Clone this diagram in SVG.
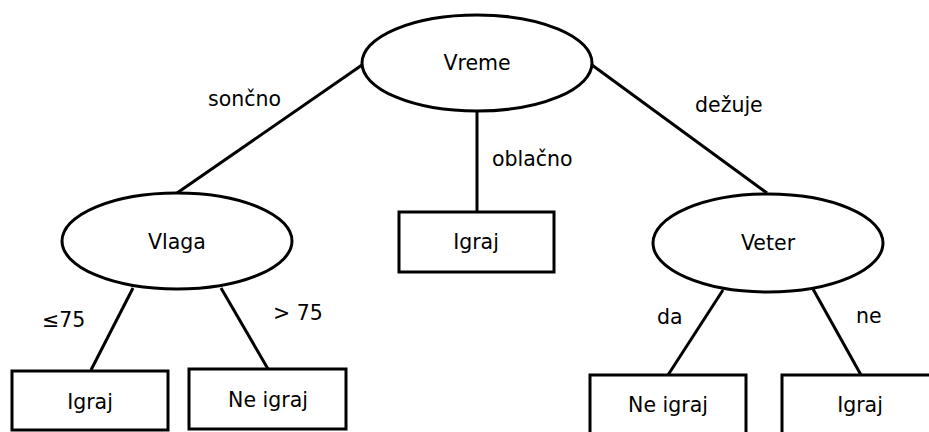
<svg xmlns="http://www.w3.org/2000/svg" width="929" height="432" viewBox="0 0 929 432">
<style>
.n{fill:#fff;stroke:#000;stroke-width:3}
.e{stroke:#000;stroke-width:3;fill:none}
text{font-family:"DejaVu Sans",sans-serif;font-size:20.5px;fill:#000}
.c{text-anchor:middle}
</style>
<rect width="929" height="432" fill="#fff"/>
<g id="connectors">
<line class="e" x1="362" y1="65" x2="177" y2="193"/>
<line class="e" x1="477" y1="112" x2="477" y2="212"/>
<line class="e" x1="592" y1="65" x2="767" y2="193"/>
<line class="e" x1="133" y1="288" x2="91" y2="370"/>
<line class="e" x1="221" y1="288" x2="268" y2="369"/>
<line class="e" x1="723" y1="290" x2="668" y2="375"/>
<line class="e" x1="813" y1="289" x2="861" y2="375"/>
<text x="208" y="106">sončno</text>
<text x="492" y="166">oblačno</text>
<text x="695" y="112">dežuje</text>
<text x="42" y="327">≤75</text>
<text x="273" y="320">&gt; 75</text>
<text x="657" y="324">da</text>
<text x="856" y="323">ne</text>
</g>
<g id="vreme">
<ellipse class="n" cx="477" cy="63" rx="115" ry="48"/>
<text class="c" x="477" y="70">Vreme</text>
</g>
<g id="vlaga">
<ellipse class="n" cx="177" cy="241" rx="115" ry="48"/>
<text class="c" x="177" y="249">Vlaga</text>
</g>
<g id="veter">
<ellipse class="n" cx="768" cy="243" rx="115" ry="49"/>
<text class="c" x="768" y="250">Veter</text>
</g>
<g id="igraj-oblacno">
<rect class="n" x="399" y="212" width="155" height="60"/>
<text class="c" x="476" y="249">Igraj</text>
</g>
<g id="igraj-vlaga">
<rect class="n" x="12" y="371" width="156" height="59"/>
<text class="c" x="90" y="409">Igraj</text>
</g>
<g id="neigraj-vlaga">
<rect class="n" x="189" y="369" width="157" height="60"/>
<text class="c" x="268" y="407">Ne igraj</text>
</g>
<g id="neigraj-veter">
<rect class="n" x="590" y="375" width="156" height="60"/>
<text class="c" x="668" y="412">Ne igraj</text>
</g>
<g id="igraj-veter">
<rect class="n" x="782" y="375" width="156" height="60"/>
<text class="c" x="860" y="412">Igraj</text>
</g>
</svg>
